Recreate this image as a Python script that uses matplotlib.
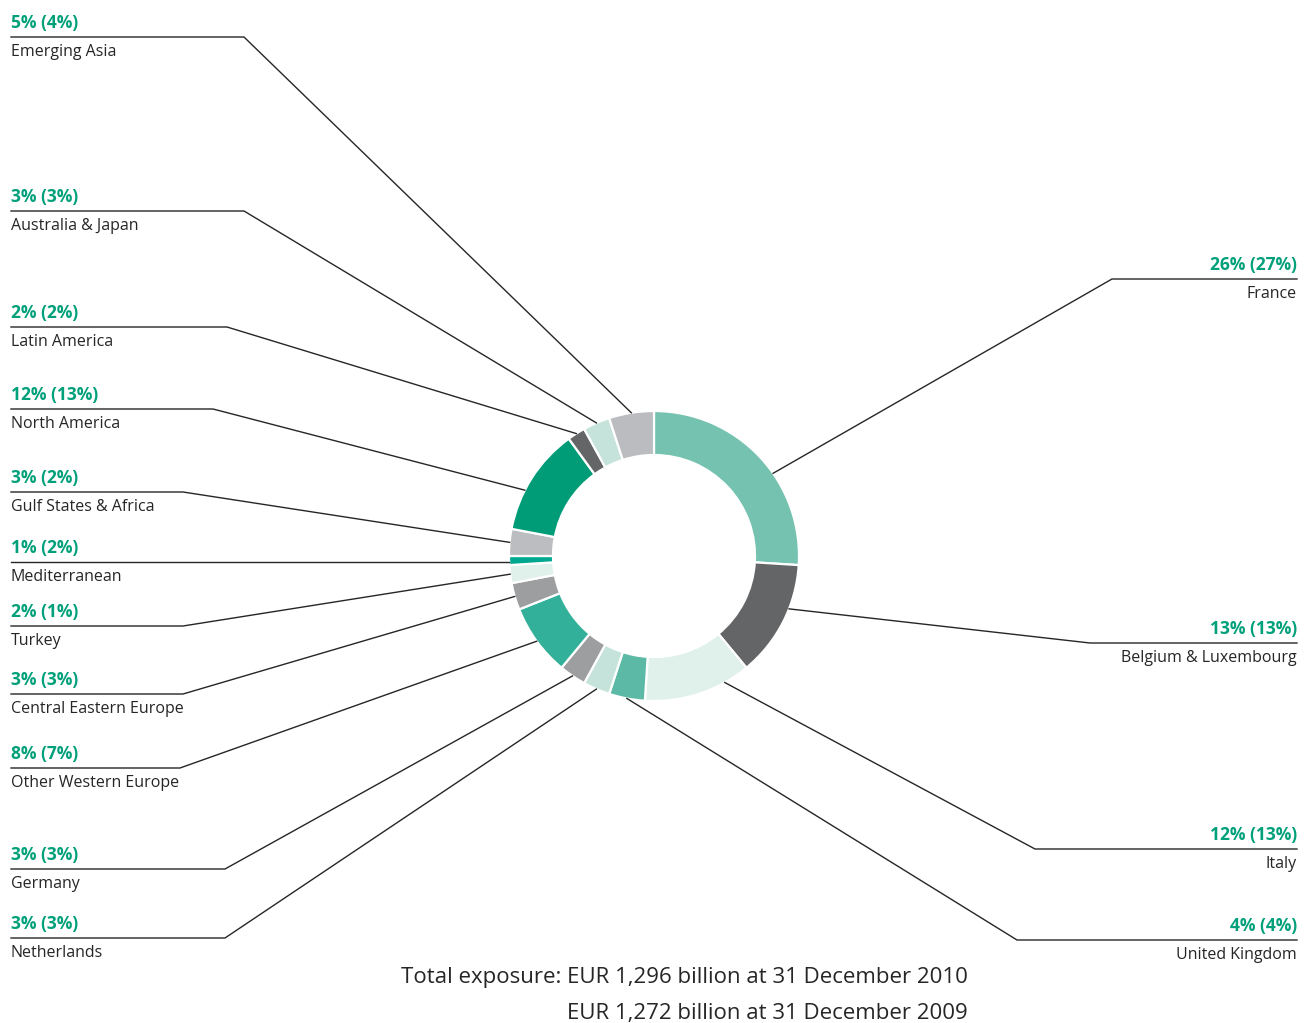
import numpy as np
import matplotlib
matplotlib.use("Agg")
from matplotlib import pyplot as plt

# clockwise from 12 o'clock
regions = ["France", "Belgium & Luxembourg", "Italy", "United Kingdom", "Netherlands",
           "Germany", "Other Western Europe", "Central Eastern Europe", "Turkey",
           "Mediterranean", "Gulf States & Africa", "North America", "Latin America",
           "Australia & Japan", "Emerging Asia"]
share_2010 = [26, 13, 12, 4, 3, 3, 8, 3, 2, 1, 3, 12, 2, 3, 5]
share_2009 = [27, 13, 13, 4, 3, 3, 7, 3, 1, 2, 2, 13, 2, 3, 4]
colors = ["#76c2b0", "#646567", "#e0f0ea", "#5bb9a5", "#c5e3da",
          "#9d9ea0", "#33b09a", "#9d9ea0", "#e0f0ea", "#00a88f",
          "#bcbdc0", "#009b77", "#646567", "#c5e3da", "#bbbcc0"]

# label layout: side, y of underline, x of elbow (pixels)
layout = {
    "France": ("right", 279, 1112),
    "Belgium & Luxembourg": ("right", 643, 1090),
    "Italy": ("right", 849, 1035),
    "United Kingdom": ("right", 940, 1017),
    "Netherlands": ("left", 938, 225),
    "Germany": ("left", 869, 225),
    "Other Western Europe": ("left", 768, 180),
    "Central Eastern Europe": ("left", 694, 183),
    "Turkey": ("left", 626, 183),
    "Mediterranean": ("left", 562, None),
    "Gulf States & Africa": ("left", 492, 183),
    "North America": ("left", 409, 213),
    "Latin America": ("left", 327, 227),
    "Australia & Japan": ("left", 211, 244),
    "Emerging Asia": ("left", 37, 244),
}
# where along the wedge the leader line meets it (0 = start, 1 = end)
anchor_frac = {"France": 0.59, "Belgium & Luxembourg": 0.38, "Italy": 0.24,
               "North America": 0.375}

W, H = 1313, 1023
cx, cy, R = 654, 556, 145
green = "#00a07a"
dark = "#262626"
plt.rcParams["font.family"] = ["Open Sans", "DejaVu Sans"]

fig = plt.figure(figsize=(W / 100, H / 100), dpi=100)
ax = fig.add_axes([0, 0, 1, 1])
wedges, _ = ax.pie(share_2010, colors=colors, radius=R, center=(cx, cy),
                   startangle=-90, counterclock=True,
                   wedgeprops=dict(width=44, edgecolor="white", linewidth=1.6))
ax.set_xlim(0, W)
ax.set_ylim(H, 0)
ax.set_aspect("equal")
ax.axis("off")

for w, name, a, b in zip(wedges, regions, share_2010, share_2009):
    side, ly, ex = layout[name]
    f = anchor_frac.get(name, 0.5)
    ang = np.deg2rad(w.theta1 + f * (w.theta2 - w.theta1))
    px, py = cx + R * np.cos(ang), cy + R * np.sin(ang)
    if side == "left":
        x0 = 11
        ha = "left"
    else:
        x0 = 1297
        ha = "right"
    if ex is None:
        xs, ys = [x0, px], [ly, ly]
    else:
        xs, ys = [x0, ex, px], [ly, ly, py]
    ax.plot(xs, ys, color=dark, lw=1.0, solid_joinstyle="miter")
    ax.text(x0, ly - 5, f"{a}% ({b}%)", color=green, fontsize=12.5,
            fontweight="bold", ha=ha, va="bottom")
    ax.text(x0, ly + 7, name, color=dark, fontsize=11.5, ha=ha, va="top")

ax.text(968, 978, "Total exposure: EUR 1,296 billion at 31 December 2010",
        color=dark, fontsize=16, ha="right", va="center")
ax.text(968, 1014, "EUR 1,272 billion at 31 December 2009",
        color=dark, fontsize=16, ha="right", va="center")

fig.savefig("out.png", dpi=100)
